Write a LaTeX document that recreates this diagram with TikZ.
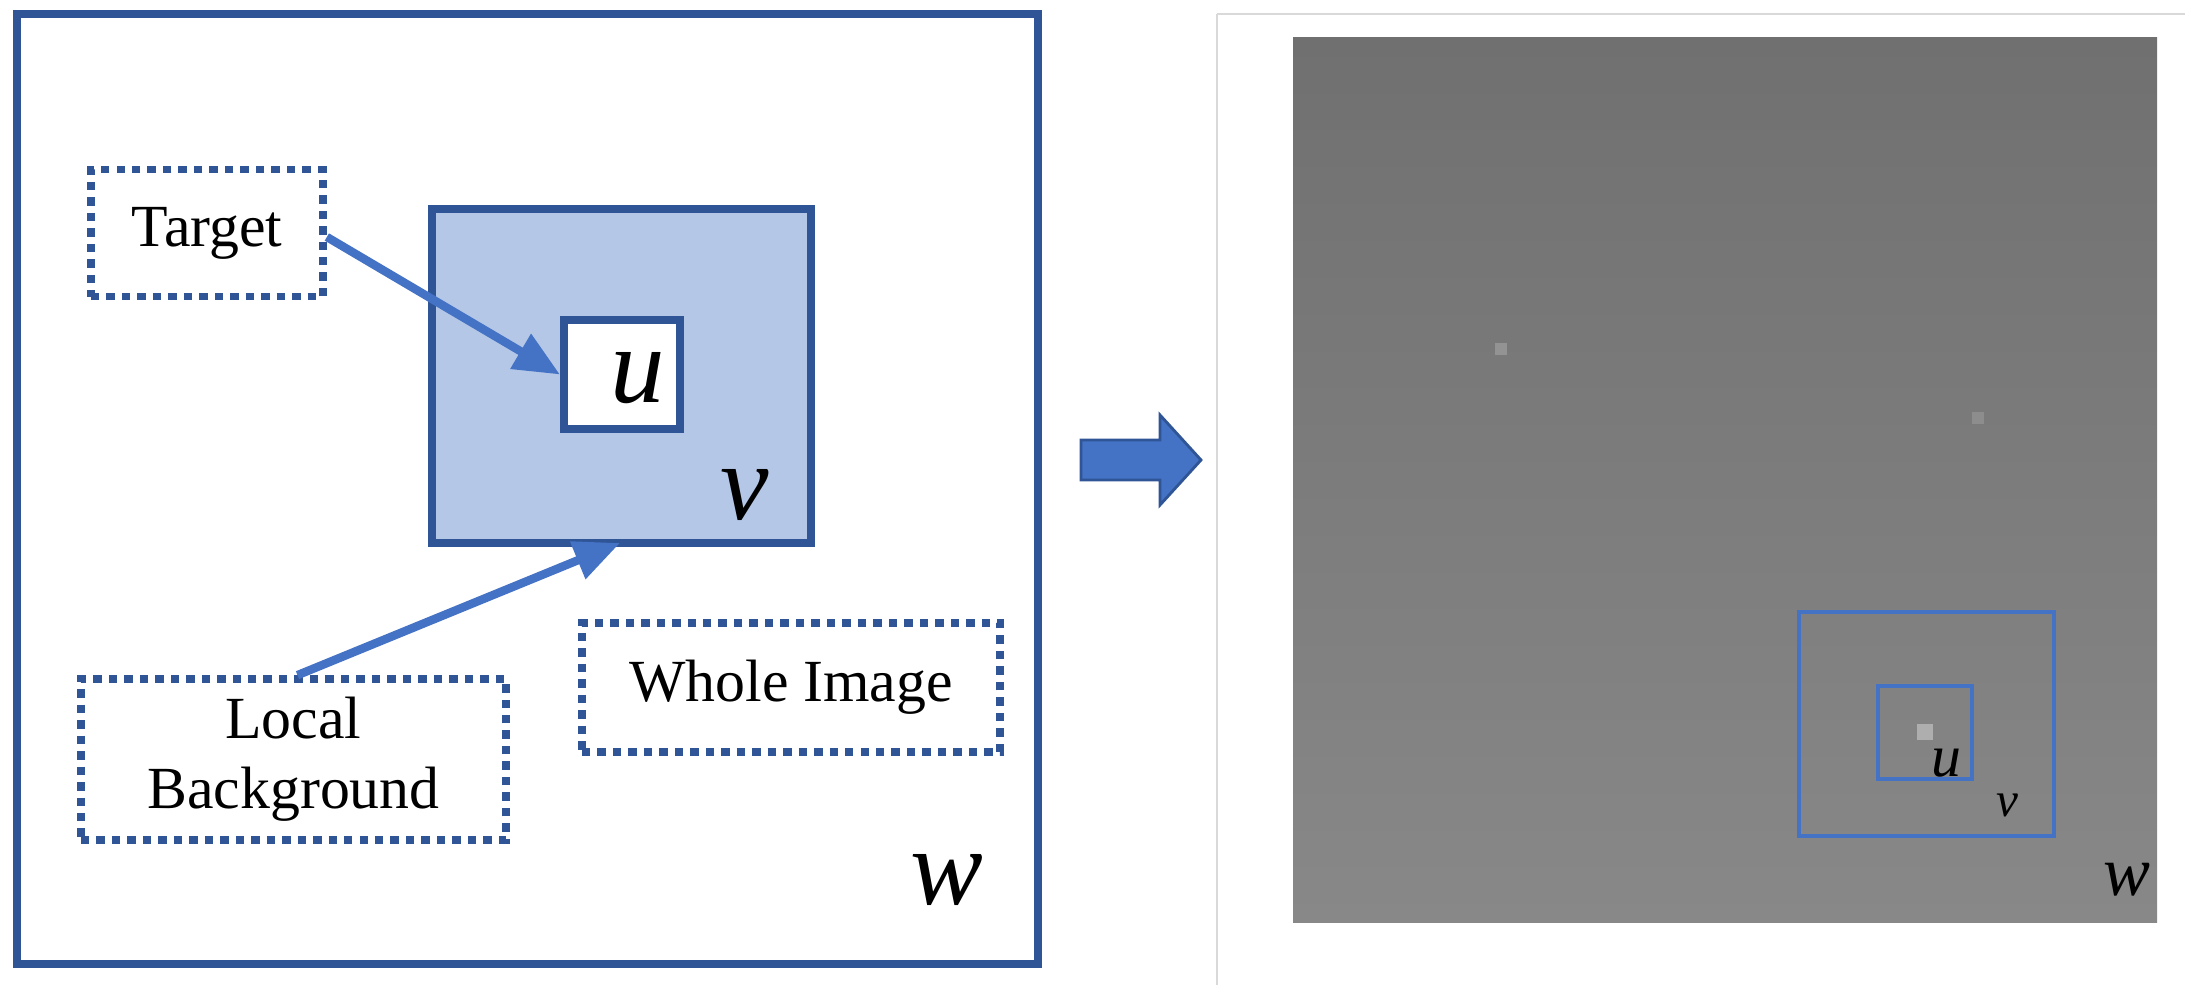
\documentclass[tikz,border=0pt]{standalone}
\usepackage{fontspec}
\setmainfont{Liberation Serif}
\usetikzlibrary{arrows.meta}
\definecolor{dblue}{HTML}{2F5597}
\definecolor{lblue}{HTML}{B4C7E7}
\definecolor{ablue}{HTML}{4472C4}
\begin{document}
\begin{tikzpicture}[x=0.01cm,y=-0.01cm,
  frame/.style={draw=dblue,line width=2.3pt},
  dotbox/.style={draw=dblue,line width=2.2pt,dash pattern=on 2.4pt off 2pt,inner sep=0pt,font=\fontsize{17}{20}\selectfont,align=center},
  conn/.style={draw=ablue,line width=2.4pt,-{Triangle[length=13pt,width=11pt]}},
  lbl/.style={font=\itshape\fontsize{31}{36}\selectfont,inner sep=0pt},
  thin/.style={draw=ablue,line width=1.1pt}]
\useasboundingbox (0,0) rectangle (2185,985);
% left panel
\draw[frame] (17,14) rectangle (1038,964);
\node[dotbox,minimum width=232*0.01cm,minimum height=127*0.01cm] (target) at (207,233) {Target};
\node[frame,fill=lblue,minimum width=379*0.01cm,minimum height=334*0.01cm,inner sep=0pt] (v) at (621.5,376) {};
\node[frame,fill=white,minimum width=116*0.01cm,minimum height=109*0.01cm,inner sep=0pt] (u) at (622,374.5) {};
\node[lbl] (ul) at (638,378) {u};
\node[lbl] (vl) at (745,495) {v};
\node[lbl] (wl) at (947,880) {w};
\node[dotbox,minimum width=425*0.01cm,minimum height=161*0.01cm] (lb) at (293.5,759.5) {Local\\Background};
\node[dotbox,minimum width=418*0.01cm,minimum height=129*0.01cm] (wi) at (791,687.5) {Whole Image};
\draw[conn] (target.east) ++(0,4) coordinate (ts) -- (u.west);
\draw[conn] (lb.north) ++(4,0) coordinate (ls) -- (620,543);
% big arrow
\fill[ablue,draw=dblue,line width=0.8pt] (1081,440) -- (1160,440) -- (1160,415) -- (1201,460) -- (1160,505) -- (1160,480) -- (1081,480) -- cycle;
% right panel
\draw[black!15,line width=0.8pt] (1217,14) -- (1217,985);
\draw[black!15,line width=0.8pt] (1217,14) -- (2185,14);
\shade[top color={rgb,255:red,112;green,112;blue,112},bottom color={rgb,255:red,136;green,136;blue,136}] (1293,38) rectangle (2157,922);
\fill[white,opacity=0.2] (1495,343) rectangle (1507,355);
\fill[white,opacity=0.15] (1972,412) rectangle (1984,424);
\fill[white,opacity=0.35] (1917,724) rectangle (1933,740);
\draw[thin] (1799,612) rectangle (2054,836);
\node[draw=ablue,line width=1.1pt,minimum width=94*0.01cm,minimum height=93*0.01cm,inner sep=0pt] (ur) at (1925,732.5) {};
\node[font=\itshape\fontsize{17}{20}\selectfont,inner sep=0pt] (url) at (1946,763) {u};
\node[font=\itshape\fontsize{14}{17}\selectfont,inner sep=0pt] (vrl) at (2007,805) {v};
\node[font=\itshape\fontsize{20}{24}\selectfont,inner sep=0pt] (wrl) at (2127,880) {w};
\end{tikzpicture}
\end{document}
